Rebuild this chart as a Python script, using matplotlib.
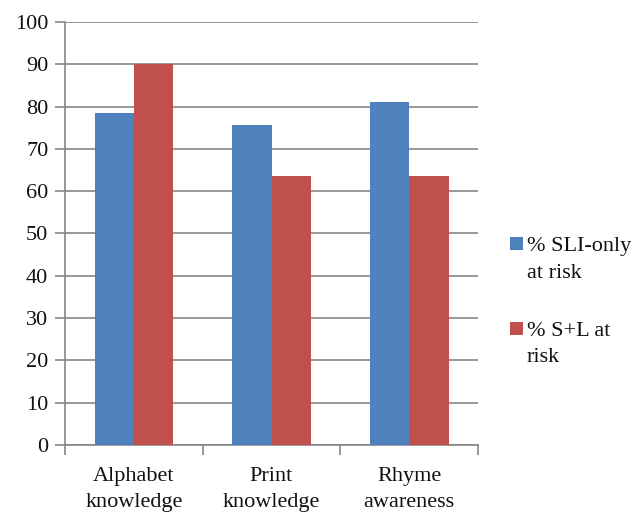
import matplotlib
matplotlib.use("Agg")
import matplotlib.pyplot as plt
from matplotlib.patches import Rectangle
import numpy as np

categories = ["Alphabet\nknowledge", "Print\nknowledge", "Rhyme\nawareness"]
sli_only = [78.4, 75.7, 81.1]
s_plus_l = [90.0, 63.5, 63.5]
series_labels = ["% SLI-only\nat risk", "% S+L at\nrisk"]
yticks = list(range(0, 101, 10))

plt.rcParams['font.family'] = ['Liberation Serif', 'DejaVu Serif']

W, H = 633, 512
fig = plt.figure(figsize=(W/100, H/100), dpi=100)
ax = fig.add_axes([65/W, 67/H, (478-65)/W, (445-22)/H])

x = np.arange(len(categories))
w = 1/3.5
blue = "#4F81BD"
red = "#C0504D"
colors = [blue, red]
ax.bar(x - w/2, sli_only, w, color=blue, label=series_labels[0], zorder=3)
ax.bar(x + w/2, s_plus_l, w, color=red, label=series_labels[1], zorder=3)

ax.set_xlim(-0.5, 2.5)
ax.set_ylim(0, 100)
ax.set_yticks(yticks)
ax.yaxis.grid(True, color="#868686", linewidth=1.2, zorder=0)
ax.set_axisbelow(True)
for s in ["top", "right"]:
    ax.spines[s].set_visible(False)
for s in ["left", "bottom"]:
    ax.spines[s].set_color("#868686")
    ax.spines[s].set_linewidth(1.2)

fs = 16
tc = "#111111"
ax.set_xticks([-0.5, 0.5, 1.5, 2.5], minor=False)
ax.set_xticklabels([])
ax.set_xticks(x, minor=True)
ax.set_xticklabels(categories, minor=True, fontsize=fs, color=tc, linespacing=1.5)
ax.tick_params(axis="x", which="minor", length=0, pad=16)
ax.tick_params(axis="x", which="major", length=7, color="#868686", width=1.2, direction="out")
ax.tick_params(axis="y", length=7, color="#868686", width=1.2, labelsize=fs, labelcolor=tc, pad=5)

# legend drawn manually (handle aligned with first text line, as in the reference)
entry_baselines = [251, 336]
line_step = 26.5
for lab, col, yb in zip(series_labels, colors, entry_baselines):
    fig.patches.append(Rectangle((510/W, 1 - (yb - 1)/H), 12.7/W, 12.7/H,
                                 transform=fig.transFigure, facecolor=col,
                                 edgecolor="none"))
    for i, line in enumerate(lab.split("\n")):
        fig.text(527/W, 1 - (yb + i*line_step)/H, line, fontsize=fs, color=tc,
                 ha="left", va="baseline")

fig.savefig("out.png", dpi=100)
